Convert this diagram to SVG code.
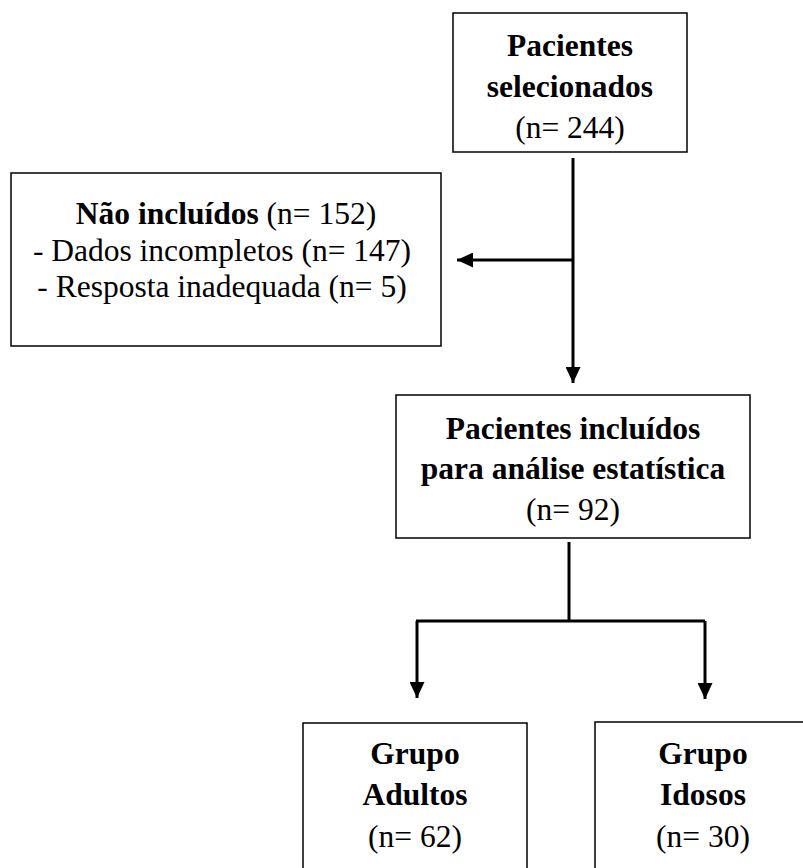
<svg xmlns="http://www.w3.org/2000/svg" width="803" height="868" viewBox="0 0 803 868">
<style>
.box{fill:#fff;stroke:#000;stroke-width:1.5}
.t{font-size:31.5px;fill:#000;text-anchor:middle}
.b{font-weight:bold}
.c{fill:none;stroke:#000;stroke-width:3}
</style>
<defs>
<marker id="ah" viewBox="0 0 16 15" refX="16" refY="7.5" markerWidth="16" markerHeight="15" markerUnits="userSpaceOnUse" orient="auto">
<path d="M0,0 L16,7.5 L0,15 Z" fill="#000"/>
</marker>
</defs>
<rect width="803" height="868" fill="#fff"/>
<g id="connectors">
<path class="c" d="M573,158 V383" marker-end="url(#ah)"/>
<path class="c" d="M573,260 H457" marker-end="url(#ah)"/>
<path class="c" d="M569,542 V621"/>
<path class="c" d="M416,621 H705"/>
<path class="c" d="M417,621 V698" marker-end="url(#ah)"/>
<path class="c" d="M705,621 V699" marker-end="url(#ah)"/>
</g>
<g font-family="'Liberation Serif', 'Times New Roman', Tinos, 'DejaVu Serif', serif">
<g id="selecionados">
<rect class="box" x="453" y="13" width="234" height="139"/>
<text class="t b" x="570" y="56">Pacientes</text>
<text class="t b" x="570" y="97">selecionados</text>
<text class="t" x="570" y="138">(n= 244)</text>
</g>
<g id="nao-incluidos">
<rect class="box" x="11" y="173" width="430" height="173"/>
<text class="t" x="226" y="224"><tspan class="b">Não incluídos</tspan> (n= 152)</text>
<text class="t" x="222" y="261">- Dados incompletos (n= 147)</text>
<text class="t" x="222" y="297">- Resposta inadequada (n= 5)</text>
</g>
<g id="incluidos">
<rect class="box" x="396" y="395" width="354" height="143"/>
<text class="t b" x="573" y="439">Pacientes incluídos</text>
<text class="t b" x="573" y="479">para análise estatística</text>
<text class="t" x="573" y="520">(n= 92)</text>
</g>
<g id="adultos">
<rect class="box" x="303" y="723" width="224" height="170"/>
<text class="t b" x="415" y="764">Grupo</text>
<text class="t b" x="415" y="805">Adultos</text>
<text class="t" x="415" y="847">(n= 62)</text>
</g>
<g id="idosos">
<rect class="box" x="595" y="722" width="230" height="170"/>
<text class="t b" x="703" y="764">Grupo</text>
<text class="t b" x="703" y="805">Idosos</text>
<text class="t" x="703" y="847">(n= 30)</text>
</g>
</g>
</svg>
